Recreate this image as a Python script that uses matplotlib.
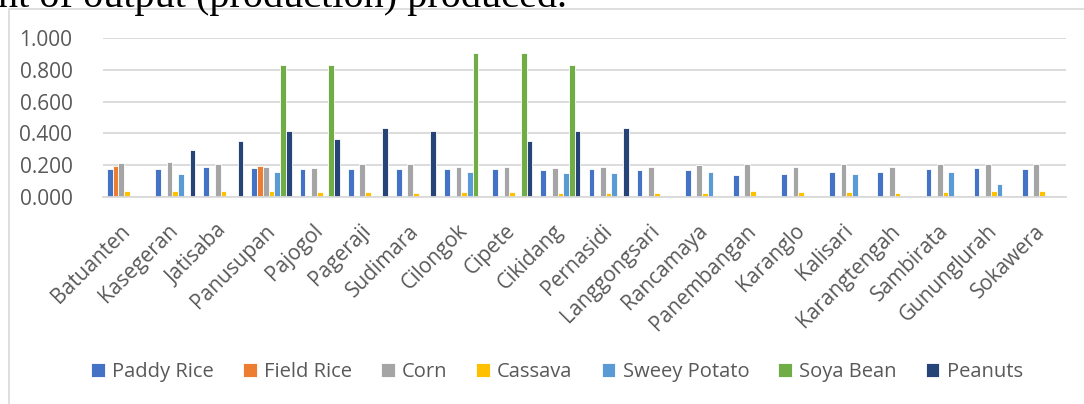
import matplotlib
matplotlib.use("Agg")
import matplotlib.pyplot as plt
from matplotlib.patches import Rectangle
import numpy as np

villages = ["Batuanten", "Kasegeran", "Jatisaba", "Panusupan", "Pajogol", "Pageraji",
            "Sudimara", "Cilongok", "Cipete", "Cikidang", "Pernasidi", "Langgongsari",
            "Rancamaya", "Panembangan", "Karanglo", "Kalisari", "Karangtengah",
            "Sambirata", "Gununglurah", "Sokawera"]

paddy_rice = [0.177, 0.179, 0.188, 0.183, 0.175, 0.179, 0.179, 0.175, 0.175, 0.171,
              0.179, 0.171, 0.171, 0.140, 0.146, 0.156, 0.158, 0.175, 0.183, 0.179]
field_rice = [0.198, 0, 0, 0.198, 0, 0, 0, 0, 0, 0,
              0, 0, 0, 0, 0, 0, 0, 0, 0, 0]
corn = [0.213, 0.221, 0.208, 0.192, 0.183, 0.206, 0.206, 0.192, 0.192, 0.183,
        0.190, 0.192, 0.204, 0.206, 0.192, 0.206, 0.192, 0.208, 0.206, 0.208]
cassava = [0.041, 0.037, 0.037, 0.037, 0.033, 0.033, 0.029, 0.033, 0.033, 0.029,
           0.029, 0.029, 0.029, 0.037, 0.033, 0.033, 0.029, 0.033, 0.037, 0.037]
sweet_potato = [0, 0.146, 0, 0.158, 0, 0, 0, 0.158, 0, 0.154,
                0.154, 0, 0.158, 0, 0, 0.146, 0, 0.156, 0.081, 0]
soya_bean = [0, 0, 0, 0.830, 0.830, 0, 0, 0.906, 0.906, 0.830,
             0, 0, 0, 0, 0, 0, 0, 0, 0, 0]
peanuts = [0, 0.294, 0.355, 0.413, 0.367, 0.434, 0.413, 0, 0.355, 0.413,
           0.434, 0, 0, 0, 0, 0, 0, 0, 0, 0]

series_names = ["Paddy Rice", "Field Rice", "Corn", "Cassava", "Sweey Potato", "Soya Bean", "Peanuts"]
series = [paddy_rice, field_rice, corn, cassava, sweet_potato, soya_bean, peanuts]
colors = ["#4472C4", "#ED7D31", "#A5A5A5", "#FFC000", "#5B9BD5", "#70AD47", "#264478"]

W, H = 1084, 404
fig = plt.figure(figsize=(W / 100, H / 100), dpi=100)
ax = fig.add_axes([103 / W, 1 - 197.3 / H, (1066 - 103) / W, (197.3 - 37.7) / H])

x = np.arange(len(villages))
slot = 0.833 / len(series)
for i, (vals, name, col) in enumerate(zip(series, series_names, colors)):
    offs = (i - (len(series) - 1) / 2) * slot
    ax.bar(x + offs, vals, width=slot, color=col, edgecolor="white", linewidth=0.6,
           label=name, zorder=3)

ax.set_xlim(-0.5, len(villages) - 0.5)
ax.set_ylim(0, 1.0)
ax.set_yticks(np.arange(0, 1.01, 0.2))
ax.set_yticklabels([f"{v:.3f}" for v in np.arange(0, 1.01, 0.2)])
ax.yaxis.grid(True, color="#D9D9D9", linewidth=1.3, zorder=0)
ax.set_axisbelow(True)
for s in ["top", "right", "left"]:
    ax.spines[s].set_visible(False)
ax.spines["bottom"].set_color("#D9D9D9")
ax.spines["bottom"].set_linewidth(1.3)
ax.spines["bottom"].set_zorder(4)

ax.set_xticks(x)
ax.set_xticklabels(villages, rotation=45, ha="right", va="center", rotation_mode="anchor")
ax.tick_params(axis="x", length=0, pad=22, labelsize=15, labelcolor="#595959")
ax.tick_params(axis="y", length=0, pad=22, labelsize=15, labelcolor="#595959")
for lab in ax.get_xticklabels() + ax.get_yticklabels():
    lab.set_fontfamily("Open Sans")

leg = fig.legend(loc="center", bbox_to_anchor=(557 / W, 1 - 372 / H), ncol=7,
                 frameon=False, handlelength=0.68, handleheight=0.68,
                 handletextpad=0.35, columnspacing=1.45,
                 prop={"family": "Open Sans", "size": 14.5})
for t in leg.get_texts():
    t.set_color("#595959")

# chart border (cut off at right/bottom)
fig.patches.append(Rectangle((8.5 / W, -0.1), 1.2, 1 - 9 / H + 0.1, transform=fig.transFigure,
                             fill=False, edgecolor="#D9D9D9", linewidth=1.2))

fig.text(-0.002, 1 - 7 / H, "nt of output (production) produced.", family="Liberation Serif",
         fontsize=29, va="baseline", ha="left", color="black")

fig.savefig("out.png", dpi=100)
